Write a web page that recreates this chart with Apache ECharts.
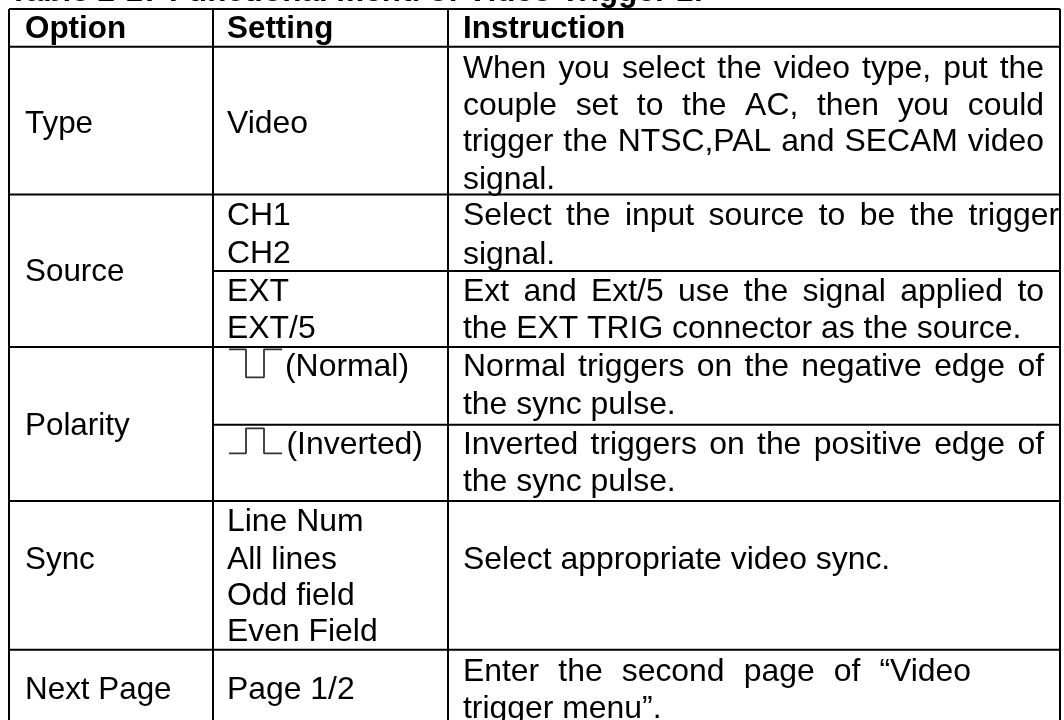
<!DOCTYPE html>
<html>
<head>
<meta charset="utf-8">
<script src="https://cdn.jsdelivr.net/npm/echarts@6/dist/echarts.min.js"></script>
<style>
html, body { margin: 0; padding: 0; background: #fff; }
#main { width: 1064px; height: 720px; }
</style>
</head>
<body>
<div id="main"></div>
<script>
// table content
const tableTitle = 'Table 2-17 Functional menu of Video Trigger 1:';
const headers = ['Option', 'Setting', 'Instruction'];
const options = ['Type', 'Source', 'Polarity', 'Sync', 'Next Page'];
const settings = ['Video', 'CH1', 'CH2', 'EXT', 'EXT/5', '(Normal)', '(Inverted)',
	'Line Num', 'All lines', 'Odd field', 'Even Field', 'Page 1/2'];
const instructions = [
	'When you select the video type, put the',
	'couple set to the AC, then you could',
	'trigger the NTSC,PAL and SECAM video',
	'signal.',
	'Select the input source to be the trigger',
	'signal.',
	'Ext and Ext/5 use the signal applied to',
	'the EXT TRIG connector as the source.',
	'Normal triggers on the negative edge of',
	'the sync pulse.',
	'Inverted triggers on the positive edge of',
	'the sync pulse.',
	'Select appropriate video sync.',
	'Enter the second page of “Video',
	'trigger menu”.'
];

// layout, in page pixels
const colX = [9, 213, 448, 1060];
const rowY = [9, 46.7, 194.5, 271, 347, 424.7, 501, 649.7, 740];
const optionY = [124, 272, 426, 560, 690];
const settingX = [227, 227, 227, 227, 227, 285, 286.5, 227, 227, 227, 227, 227];
const settingY = [124, 216, 254, 292, 329, 367, 445.5, 522, 560, 596, 632, 690];
const instructionY = [69, 106, 142.5, 180, 216, 255, 292, 329, 367, 405, 445, 482, 560.5, 672, 709];
// right edge of justified lines, 0 = plain left aligned
const instructionEnd = [1044, 1044, 1044, 0, 1059, 0, 1044, 0, 1044, 0, 1044, 0, 0, 971, 0];

// grid lines [x1, y1, x2, y2]
const rules = [
	[colX[0], rowY[0], colX[3], rowY[0]],
	[colX[0], rowY[1], colX[3], rowY[1]],
	[colX[0], rowY[2], colX[3], rowY[2]],
	[colX[1], rowY[3], colX[3], rowY[3]],
	[colX[0], rowY[4], colX[3], rowY[4]],
	[colX[1], rowY[5], colX[3], rowY[5]],
	[colX[0], rowY[6], colX[3], rowY[6]],
	[colX[0], rowY[7], colX[3], rowY[7]],
	[colX[0], rowY[0], colX[0], rowY[8]],
	[colX[1], rowY[0], colX[1], rowY[8]],
	[colX[2], rowY[0], colX[2], rowY[8]],
	[colX[3], rowY[0], colX[3], rowY[8]]
];

// sync pulse glyphs, polylines
const pulseNormal = [[229, 349.3], [246, 349.3], [246, 377.3], [264, 377.3], [264, 349.3], [282, 349.3]];
const pulseInverted = [[229, 453.3], [246, 453.3], [246, 428.3], [264, 428.3], [264, 453.3], [282, 453.3]];

const FONT = '"Liberation Sans", Arial, sans-serif';
const SIZE = 31.9;
const SIZE_OPTION = 31.4;
const SIZE_BOLD = 31.4;

const measure = document.createElement('canvas').getContext('2d');
function wordWidth(s) {
	measure.font = SIZE + 'px ' + FONT;
	return measure.measureText(s).width;
}

// one row per piece of text: [x, y, text, font]
const pieces = [];
const plainFont = SIZE + 'px ' + FONT;
const optionFont = SIZE_OPTION + 'px ' + FONT;
const boldFont = 'bold ' + SIZE_BOLD + 'px ' + FONT;
function addLine(x, y, line, end) {
	if (!end) {
		pieces.push([x, y, line, plainFont]);
		return;
	}
	const words = line.split(' ');
	const total = words.reduce((a, w) => a + wordWidth(w), 0);
	const gap = (end - x - total) / (words.length - 1);
	let cx = x;
	words.forEach(w => {
		pieces.push([cx, y, w, plainFont]);
		cx += wordWidth(w) + gap;
	});
}
pieces.push([9, -7.5, tableTitle, boldFont]);
headers.forEach((h, i) => pieces.push([[25, 227, 463][i], 29.7, h, boldFont]));
options.forEach((s, i) => pieces.push([25, optionY[i], s, optionFont]));
settings.forEach((s, i) => pieces.push([settingX[i], settingY[i], s, plainFont]));
instructions.forEach((s, i) => addLine(463, instructionY[i], s, instructionEnd[i]));

const myChart = echarts.init(document.getElementById('main'), null, { renderer: 'canvas' });
myChart.setOption({
	animation: false,
	backgroundColor: '#fff',
	tooltip: { show: false },
	grid: { left: 0, right: 0, top: 0, bottom: 0 },
	xAxis: { type: 'value', min: 0, max: 1064, show: false },
	yAxis: { type: 'value', min: 0, max: 720, inverse: true, show: false },
	series: [
		{
			type: 'custom',
			coordinateSystem: 'cartesian2d',
			clip: false,
			silent: true,
			data: rules,
			renderItem(params, api) {
				const a = api.coord([api.value(0), api.value(1)]);
				const b = api.coord([api.value(2), api.value(3)]);
				return {
					type: 'line',
					shape: { x1: a[0], y1: a[1], x2: b[0], y2: b[1] },
					style: { stroke: '#000', lineWidth: 2 }
				};
			}
		},
		{
			type: 'line',
			silent: true,
			symbol: 'none',
			data: pulseNormal,
			lineStyle: { color: '#333', width: 1.8 }
		},
		{
			type: 'line',
			silent: true,
			symbol: 'none',
			data: pulseInverted,
			lineStyle: { color: '#333', width: 1.8 }
		},
		{
			type: 'custom',
			coordinateSystem: 'cartesian2d',
			clip: false,
			silent: true,
			data: pieces.map(p => [p[0], p[1]]),
			renderItem(params, api) {
				const p = pieces[params.dataIndex];
				const c = api.coord([p[0], p[1]]);
				return {
					type: 'text',
					x: c[0],
					y: c[1],
					style: {
						text: p[2],
						fill: '#000',
						font: p[3],
						textAlign: 'left',
						textVerticalAlign: 'middle'
					}
				};
			}
		}
	]
});
</script>
</body>
</html>
